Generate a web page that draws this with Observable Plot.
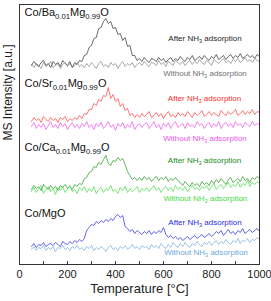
<!DOCTYPE html>
<html><head><meta charset="utf-8">
<script src="https://cdn.jsdelivr.net/npm/d3@7"></script>
<script src="https://cdn.jsdelivr.net/npm/@observablehq/plot@0.6"></script>
<style>body{margin:0;background:#fff}</style>
</head><body><div id="chart"></div>
<script>
// Temperature grid (°C)
const temps = d3.range(50, 1001, 10);
const tickMinor = d3.range(0, 1001, 100);
const tickMajor = [0, 200, 400, 600, 800, 1000];

// MS intensity (a.u., vertically offset traces)
const baAfter = [199,203,200,198,202,204,199,201,197,203,200,202,198,204,201,199,203,197,202,200,204,
  203,209,210,217,219,226,227,236,237,243,246,241,243,236,237,230,231,224,227,218,219,209,209,204,
  206,203,207,204,202,206,205,203,207,204,206,202,205,207,203,206,204,208,205,203,207,205,209,204,206,208,205,209,206,204,208,206,210,205,207,209,205,208,210,206,209,207,211,206,208,210,207,209,206,210,208];
const baWithout = [200,197,201,199,196,202,198,200,203,197,199,201,196,200,202,198,201,197,199,202,198,
  200,197,201,198,202,199,196,201,203,198,200,197,202,199,201,196,200,203,198,201,199,202,197,200,
  202,199,203,200,198,202,201,199,204,200,202,198,203,201,199,204,202,200,203,199,202,204,200,203,201,205,202,200,204,202,199,205,203,201,204,206,202,204,201,205,203,206,202,204,207,203,205,202,206,204,203];
const srAfter = [143,147,144,146,142,148,145,143,147,144,146,142,147,145,148,143,146,144,147,145,149,
  146,151,150,155,155,161,159,165,163,169,168,177,166,170,163,166,158,161,154,156,149,151,147,150,
  147,151,148,150,153,147,149,152,148,151,146,150,153,148,150,147,152,149,151,148,153,150,147,152,149,151,154,148,150,153,149,152,150,148,154,151,149,153,150,152,155,149,151,154,150,153,151,155,150,153,152];
const srWithout = [138,142,136,140,137,141,135,139,143,137,140,136,142,138,141,135,139,142,137,140,136,141,138,143,
  137,140,135,141,138,142,136,139,143,137,140,134,141,138,142,136,140,137,143,135,139,141,137,140,
  142,136,139,143,137,140,135,141,138,142,136,140,143,137,139,141,136,142,138,140,137,143,139,141,
  136,140,142,137,141,138,143,136,140,142,138,141,137,143,139,141,137,142,140,138,143,139,141,140];
const caAfter = [75,79,76,78,74,80,77,75,79,76,78,74,79,77,80,76,78,75,80,78,81,
  80,86,87,92,93,98,97,102,100,105,109,101,99,104,103,107,104,106,100,93,89,85,87,84,
  87,84,88,85,87,83,86,88,84,87,85,88,83,86,84,87,84,
  82,79,83,80,78,82,79,81,78,83,80,82,79,
  84,81,85,82,86,83,80,85,87,82,84,86,83,88,84,86,82,87,85,88,86];
const caWithout = [73,77,72,76,79,71,75,78,73,76,70,77,74,78,72,76,79,73,75,71,77,74,78,72,
  76,73,78,71,75,77,72,76,74,79,73,75,71,77,74,78,72,76,73,75,78,72,76,74,
  77,73,76,79,74,77,72,76,78,74,77,73,79,75,77,74,78,73,76,79,75,77,74,78,
  76,79,74,78,81,75,78,80,76,79,82,77,80,78,83,77,81,79,84,78,82,80,83,81];
const mgAfter = [18,21,17,20,19,22,18,20,21,19,22,20,18,23,21,20,23,21,24,22,25,23,26,
  34,37,40,39,43,41,44,42,45,43,46,44,48,50,47,49,
  38,36,33,35,31,34,32,30,33,31,34,30,33,31,34,32,37,
  30,27,29,26,28,25,27,24,26,28,25,27,29,26,28,30,27,29,31,28,
  30,33,31,34,29,32,35,31,33,30,34,32,36,31,33,35,32,34,36,33];
const mgWithout = [15,18,14,17,16,19,14,17,15,18,13,17,16,19,15,17,14,18,16,19,15,17,14,18,
  16,19,14,17,15,18,16,13,17,19,15,17,14,18,16,19,15,17,20,16,18,15,19,17,
  18,15,20,17,19,16,21,18,16,20,17,22,19,17,21,18,22,19,17,21,19,23,20,18,
  22,20,23,19,22,24,20,23,21,25,22,20,24,22,26,21,24,23,26,22,25,24,27,25];

const seriesKeys = ["baAfter","baWithout","srAfter","srWithout","caAfter","caWithout","mgAfter","mgWithout"];
const seriesValues = [baAfter, baWithout, srAfter, srWithout, caAfter, caWithout, mgAfter, mgWithout];
const seriesColors = ["#3a3a3a","#8c8c8c","#ff4a4a","#f05af0","#2f9a2f","#4ee04e","#3434ec","#7aaee0"];

// Labels
const sampleNames = ["Co/Ba_{0.01}Mg_{0.99}O","Co/Sr_{0.01}Mg_{0.99}O","Co/Ca_{0.01}Mg_{0.99}O","Co/MgO"];
const sampleLabelT = [21, 21, 21, 21];
const sampleLabelI = [252, 181, 117, 51];
const noteTexts = ["After NH_{3} adsorption","Without NH_{3} adsorption"];
const noteLabelT = [773, 773, 771, 773, 771, 775, 773, 777];
const noteLabelI = [226, 191, 166, 126, 104, 66, 42, 12];
const noteColors = ["#262626","#707070","#ff2e2e","#ee55ee","#238a23","#44dd44","#2b2be6","#6fa8dc"];

const rows = seriesKeys.flatMap((k, j) => seriesValues[j].map((v, i) => ({T: temps[i], I: v, key: k})));
const names = sampleNames.map((s, i) => ({text: s, T: sampleLabelT[i], I: sampleLabelI[i]}));
const notes = seriesKeys.map((k, i) => ({text: noteTexts[i % 2], T: noteLabelT[i], I: noteLabelI[i], color: noteColors[i]}));

const font = "'Liberation Sans', Arial, sans-serif";
const plot = Plot.plot({
  width: 271, height: 301,
  marginLeft: 19, marginRight: 12, marginTop: 4, marginBottom: 37,
  style: {fontFamily: font, background: "#fff", color: "#222"},
  x: {domain: [0, 1000], label: null},
  y: {domain: [0, 260], axis: null},
  color: {domain: seriesKeys, range: seriesColors},
  marks: [
    Plot.line(rows, {x: "T", y: "I", z: "key", stroke: "key", strokeWidth: 0.75}),
    Plot.frame({stroke: "#333", strokeWidth: 1}),
    Plot.axisX({ticks: tickMinor, tickSize: -3, tickFormat: () => "", stroke: "#333", label: null}),
    Plot.axisX({ticks: tickMajor, tickSize: 0, tickPadding: 6, fontSize: 11, fill: "#222", label: null, tickFormat: d => String(d)}),
    Plot.text(names, {x: "T", y: "I", text: "text", textAnchor: "start", fontSize: 11, fill: "#111"}),
    ...notes.map(n => Plot.text([n], {x: "T", y: "I", text: "text", textAnchor: "middle", fontSize: 8, fill: n.color})),
    Plot.text(["MS Intensity [a.u.]"], {text: d => d, frameAnchor: "left", rotate: -90, dx: -11, dy: 6, fontSize: 12, fill: "#222"}),
    Plot.text(["Temperature [°C]"], {text: d => d, frameAnchor: "bottom", dy: 28, fontSize: 13, fill: "#222"})
  ]
});

// Render subscripts written as _{...}
plot.querySelectorAll("text").forEach(el => {
  const s = el.textContent;
  if (!s.includes("_{")) return;
  el.textContent = "";
  const ns = "http://www.w3.org/2000/svg";
  const re = /_\{([^}]*)\}/g;
  let last = 0, m, afterSub = false;
  const add = (txt, sub) => {
    if (!txt) return;
    const t = document.createElementNS(ns, "tspan");
    t.textContent = txt;
    if (sub) { t.setAttribute("font-size", "70%"); t.setAttribute("dy", "0.35em"); afterSub = true; }
    else if (afterSub) { t.setAttribute("dy", "-0.245em"); afterSub = false; }
    el.appendChild(t);
  };
  while ((m = re.exec(s))) { add(s.slice(last, m.index), false); add(m[1], true); last = re.lastIndex; }
  add(s.slice(last), false);
});

document.getElementById("chart").appendChild(plot);
</script>
</body></html>
